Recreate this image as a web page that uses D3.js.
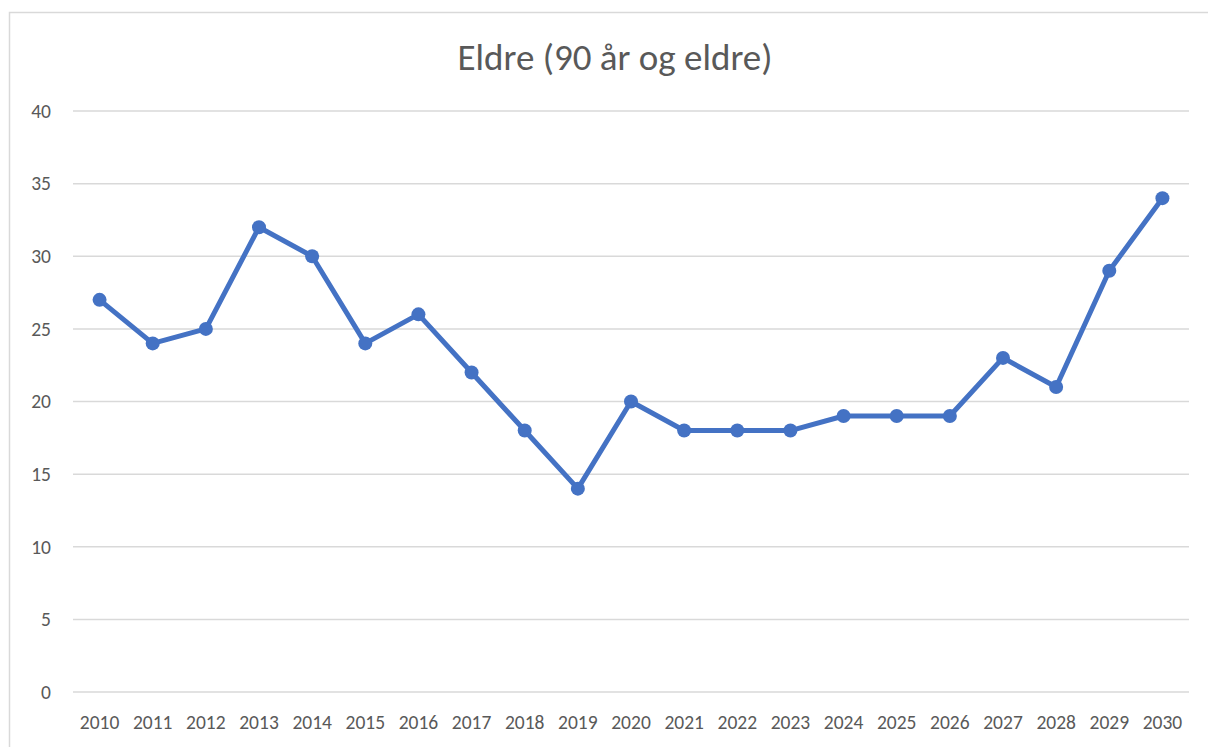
<!DOCTYPE html>
<html>
<head>
<meta charset="utf-8">
<script src="https://cdn.jsdelivr.net/npm/d3@7"></script>
<style>
  body { margin: 0; background: #fff; }
  svg { display: block; font-family: Carlito, Calibri, Lato, "Open Sans", sans-serif; }
</style>
</head>
<body>
<svg id="chart" width="1208" height="747"></svg>
<script>
var years = ['2010','2011','2012','2013','2014','2015','2016','2017','2018','2019','2020',
	'2021','2022','2023','2024','2025','2026','2027','2028','2029','2030'];
var values = [27,24,25,32,30,24,26,22,18,14,20,18,18,18,19,19,19,23,21,29,34];
var yTicks = [0,5,10,15,20,25,30,35,40];
var title = 'Eldre (90 år og eldre)';

var svg = d3.select('#chart'),
	font = 'Carlito, Calibri, Lato, "Open Sans", sans-serif',
	pad = {left: 73, right: 1189, top: 111, bottom: 692};

// chart frame, runs off the right and bottom edge
svg.append('rect')
	.attr('x', 9.5).attr('y', 12.5)
	.attr('width', 1220).attr('height', 760)
	.attr('fill', 'none').attr('stroke', '#d9d9d9').attr('stroke-width', 1.5);

var x = d3.scaleBand().domain(years).range([pad.left, pad.right]),
	y = d3.scaleLinear().domain([0, 40]).range([pad.bottom, pad.top]);

// gridlines
svg.append('g').selectAll('line').data(yTicks).enter().append('line')
	.attr('x1', pad.left).attr('x2', pad.right)
	.attr('y1', function (d) {return y(d);}).attr('y2', function (d) {return y(d);})
	.attr('stroke', '#d9d9d9').attr('stroke-width', 1.5);

// y labels
var yAxis = d3.axisLeft(y).tickValues(yTicks).tickSize(0).tickPadding(0);
svg.append('g').attr('transform', 'translate(51,0)').call(yAxis)
	.call(function (g) {g.select('.domain').remove();})
	.selectAll('text').attr('font-size', 19.5).attr('fill', '#595959')
	.attr('font-family', font);

// x labels
var xAxis = d3.axisBottom(x).tickSize(0).tickPadding(0);
svg.append('g').attr('transform', 'translate(0,' + (pad.bottom + 23) + ')').call(xAxis)
	.call(function (g) {g.select('.domain').remove();})
	.selectAll('text').attr('font-size', 19.5).attr('fill', '#595959')
	.attr('font-family', font);

var cx = function (d, i) {return x(years[i]) + x.bandwidth() / 2;};

svg.append('path').datum(values)
	.attr('fill', 'none').attr('stroke', '#4472c4').attr('stroke-width', 5)
	.attr('stroke-linejoin', 'round')
	.attr('d', d3.line().x(cx).y(function (d) {return y(d);}));

svg.append('g').selectAll('circle').data(values).enter().append('circle')
	.attr('cx', cx).attr('cy', function (d) {return y(d);})
	.attr('r', 7).attr('fill', '#4472c4');

svg.append('text')
	.attr('x', 615).attr('y', 70).attr('text-anchor', 'middle')
	.attr('font-size', 37).attr('fill', '#595959').attr('font-family', font)
	.text(title);
</script>
</body>
</html>
